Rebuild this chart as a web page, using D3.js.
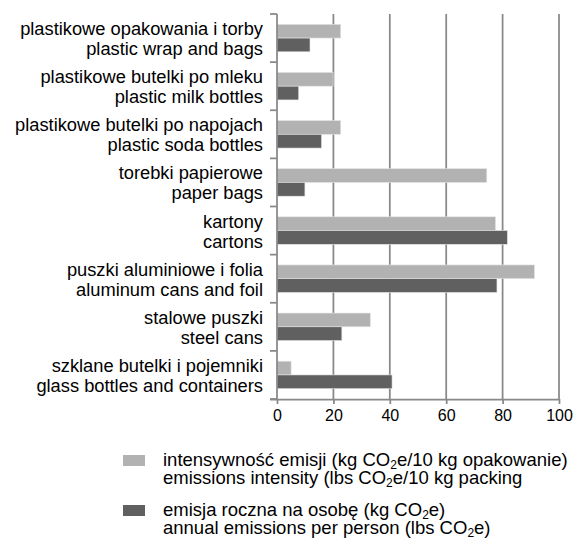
<!DOCTYPE html>
<html>
<head>
<meta charset="utf-8">
<script src="https://cdn.jsdelivr.net/npm/d3@7"></script>
<style>
  html, body { margin: 0; padding: 0; background: #fff; }
  svg { display: block; font-family: "Liberation Sans", Arial, sans-serif; }
</style>
</head>
<body>
<svg id="chart" width="576" height="543"></svg>
<script>
const categoriesPL = [
  "plastikowe opakowania i torby",
  "plastikowe butelki po mleku",
  "plastikowe butelki po napojach",
  "torebki papierowe",
  "kartony",
  "puszki aluminiowe i folia",
  "stalowe puszki",
  "szklane butelki i pojemniki"
];
const categoriesEN = [
  "plastic wrap and bags",
  "plastic milk bottles",
  "plastic soda bottles",
  "paper bags",
  "cartons",
  "aluminum cans and foil",
  "steel cans",
  "glass bottles and containers"
];
const intensityValues = [22.6, 19.9, 22.6, 74.4, 77.5, 91.3, 33.1, 5.0];
const annualValues    = [11.7, 7.7, 15.8, 9.9, 81.7, 78.0, 23.0, 40.8];
const xTicks = [0, 20, 40, 60, 80, 100];
const seriesKeys = ["intensity", "annual"];
const seriesColors = ["#b2b2b2", "#606060"];
const legendLines = [
  [[["intensywność emisji (kg CO", false], ["2", true], ["e/10 kg opakowanie)", false]],
   [["emissions intensity (lbs CO", false], ["2", true], ["e/10 kg packing", false]]],
  [[["emisja roczna na osobę (kg CO", false], ["2", true], ["e)", false]],
   [["annual emissions per person (lbs CO", false], ["2", true], ["e)", false]]]
];

const svg = d3.select("#chart");
const margin = { left: 277, right: 17, top: 14, bottom: 144 };
const W = 576, H = 543;
const plotW = W - margin.left - margin.right;
const plotH = H - margin.top - margin.bottom;

const rows = categoriesPL.map((c, i) => ({
  i, pl: c, en: categoriesEN[i],
  intensity: intensityValues[i], annual: annualValues[i]
}));

const x = d3.scaleLinear().domain([0, 100]).range([0, plotW]);
const y = d3.scaleBand().domain(d3.range(rows.length)).range([0, plotH]).padding(0);
const ySub = d3.scaleBand().domain(seriesKeys).range([0, y.bandwidth()])
  .paddingInner(0).paddingOuter(0.75);

const g = svg.append("g").attr("transform", `translate(${margin.left},${margin.top})`);
const gridColor = "#888888";

// gridlines
g.append("g").selectAll("line")
  .data(xTicks.filter(t => t > 0))
  .join("line")
  .attr("x1", d => x(d)).attr("x2", d => x(d))
  .attr("y1", 0).attr("y2", plotH)
  .attr("stroke", gridColor).attr("stroke-width", 1.75);

// bars
const rowG = g.append("g").selectAll("g")
  .data(rows)
  .join("g")
  .attr("transform", d => `translate(0,${y(d.i)})`);

rowG.selectAll("rect")
  .data(d => seriesKeys.map((k, j) => ({ key: k, value: d[k], color: seriesColors[j] })))
  .join("rect")
  .attr("x", x(0))
  .attr("y", d => ySub(d.key))
  .attr("width", d => x(d.value) - x(0))
  .attr("height", ySub.bandwidth())
  .attr("fill", d => d.color)
  .attr("stroke", "#e4e4e4").attr("stroke-width", 0.6);

// left axis (ticks at band boundaries)
const leftAxis = g.append("g");
leftAxis.append("line")
  .attr("x1", 0).attr("x2", 0).attr("y1", 0).attr("y2", plotH)
  .attr("stroke", gridColor).attr("stroke-width", 1.75);
leftAxis.selectAll("line.tk")
  .data(d3.range(rows.length + 1))
  .join("line").attr("class", "tk")
  .attr("x1", -7).attr("x2", 0)
  .attr("y1", d => d < rows.length ? y(d) : plotH)
  .attr("y2", d => d < rows.length ? y(d) : plotH)
  .attr("stroke", gridColor).attr("stroke-width", 1.75);

// bottom axis
const xAxis = d3.axisBottom(x).tickValues(xTicks).tickSize(5).tickSizeOuter(0).tickPadding(6);
const bx = g.append("g").attr("transform", `translate(0,${plotH})`).call(xAxis);
bx.select(".domain").attr("stroke", gridColor).attr("stroke-width", 1.75)
  .attr("d", `M-7,0.5H${plotW}`);
bx.selectAll(".tick line").attr("stroke", gridColor).attr("stroke-width", 1.75);
bx.selectAll(".tick text")
  .attr("font-family", "Liberation Sans, Arial, sans-serif")
  .attr("font-size", 16).attr("fill", "#000").attr("dy", "0.71em");

// category labels
const lab = g.append("g").selectAll("text")
  .data(rows)
  .join("text")
  .attr("text-anchor", "end")
  .attr("font-size", 18.3)
  .attr("fill", "#000")
  .attr("transform", d => `translate(-14,${y(d.i) + y.bandwidth() / 2})`);
lab.append("tspan").attr("x", 0).attr("y", -3).text(d => d.pl);
lab.append("tspan").attr("x", 0).attr("y", 17).text(d => d.en);

// legend
const legG = svg.append("g");
const legendTop = [455, 505];
legendLines.forEach((lines, si) => {
  const top = legendTop[si];
  legG.append("rect")
    .attr("x", 123).attr("y", top).attr("width", 22).attr("height", 11)
    .attr("fill", seriesColors[si]);
  lines.forEach((segs, li) => {
    const t = legG.append("text")
      .attr("x", 163).attr("y", top + 11 + li * 18)
      .attr("font-size", 18.5).attr("fill", "#000");
    segs.forEach(([s, sub], k) => {
      const ts = t.append("tspan").text(s);
      if (sub) ts.attr("font-size", 12).attr("dy", 3);
      else if (k > 0) ts.attr("dy", -3);
    });
  });
});
</script>
</body>
</html>
